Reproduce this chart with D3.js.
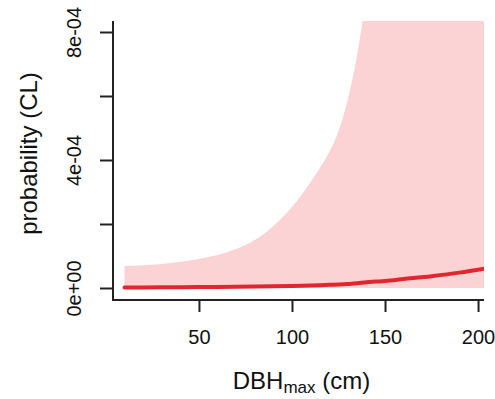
<!DOCTYPE html>
<html>
<head>
<meta charset="utf-8">
<script src="https://cdn.jsdelivr.net/npm/d3@7"></script>
<style>
  html, body { margin: 0; padding: 0; background: #fff; }
  svg { display: block; font-family: "Liberation Sans", Arial, sans-serif; }
</style>
</head>
<body>
<svg id="chart" width="495" height="399"></svg>
<script>
// ---- data ----
const dbh     = [10, 20, 30, 40, 50, 60, 70, 80, 90, 100, 110, 115, 120, 125, 130, 135, 140, 145, 150, 160, 175, 190, 205];
const meanP   = [1.5e-6, 1.8e-6, 2.1e-6, 2.4e-6, 2.8e-6, 3.3e-6, 3.9e-6, 4.6e-6, 5.5e-6, 6.6e-6, 8.0e-6, 8.9e-6, 1.0e-5, 1.1e-5, 1.25e-5, 1.45e-5, 1.8e-5, 2.0e-5, 2.2e-5, 2.8e-5, 3.7e-5, 4.8e-5, 6.2e-5];
const upperP  = [6.9e-5, 7.1e-5, 7.5e-5, 8.2e-5, 9.1e-5, 1.03e-4, 1.22e-4, 1.5e-4, 1.94e-4, 2.53e-4, 3.31e-4, 3.75e-4, 4.25e-4, 4.9e-4, 5.9e-4, 7.28e-4, 9.2e-4, 1.16e-3, 1.45e-3, 2.3e-3, 4.0e-3, 7.0e-3, 1.2e-2];
const lowerP  = [0, 0, 0, 0, 0, 0, 0, 0, 0, 0, 0, 0, 0, 0, 0, 0, 0, 0, 0, 0, 0, 0, 0];
const xTicks  = [50, 100, 150, 200];
const yTicks  = [0, 2e-4, 4e-4, 6e-4, 8e-4];
const yTickLabels = {0: "0e+00", 0.0004: "4e-04", 0.0008: "8e-04"};
const xTitle  = "DBH";
const xTitleSub = "max";
const xTitleTail = " (cm)";
const yTitle  = "probability (CL)";

// ---- layout ----
const svg = d3.select("#chart");
const L = 113, R = 484, T = 21, B = 300;
const x = d3.scaleLinear().domain([3.8, 203.2]).range([L, R]);
const y = d3.scaleLinear().domain([-3.75e-5, 8.344e-4]).range([B, T]);
const fs = 20, fsLab = 24;

const rows = dbh.map((d, i) => ({x: d, m: meanP[i], lo: lowerP[i], hi: upperP[i]}));

svg.append("defs").append("clipPath").attr("id", "clip")
  .append("rect").attr("x", L).attr("y", T).attr("width", R - L).attr("height", B - T);

const g = svg.append("g").attr("clip-path", "url(#clip)");

g.append("path").datum(rows)
  .attr("fill", "#fcd3d4")
  .attr("d", d3.area().x(d => x(d.x)).y0(d => y(d.lo)).y1(d => y(d.hi)).curve(d3.curveMonotoneX));

g.append("path").datum(rows)
  .attr("fill", "none")
  .attr("stroke", "#e0262e")
  .attr("stroke-width", 4)
  .attr("stroke-linecap", "round")
  .attr("d", d3.line().x(d => x(d.x)).y(d => y(d.m)).curve(d3.curveMonotoneX));

// L-shaped box
svg.append("path")
  .attr("d", `M${L},${T}V${B}H${R}`)
  .attr("fill", "none").attr("stroke", "#222").attr("stroke-width", 2);

// x axis
const xa = svg.append("g").attr("transform", `translate(0,${B})`)
  .call(d3.axisBottom(x).tickValues(xTicks).tickSize(12).tickSizeOuter(0).tickFormat(d3.format("d")));
xa.select(".domain").remove();
xa.selectAll("line").attr("stroke", "#222").attr("stroke-width", 2);
xa.selectAll("text").attr("y", 44).attr("dy", 0)
  .attr("font-size", fs).attr("fill", "#111").attr("font-family", "Liberation Sans, Arial, sans-serif");

// y axis
const ya = svg.append("g").attr("transform", `translate(${L},0)`)
  .call(d3.axisLeft(y).tickValues(yTicks).tickSize(13).tickSizeOuter(0)
    .tickFormat(d => yTickLabels[+d.toFixed(4)] || ""));
ya.select(".domain").remove();
ya.selectAll("line").attr("stroke", "#222").attr("stroke-width", 2);
ya.selectAll("text")
  .attr("transform", "rotate(-90)")
  .attr("x", 0).attr("y", -32).attr("dy", 0)
  .attr("text-anchor", "middle")
  .attr("font-size", fs).attr("fill", "#111").attr("font-family", "Liberation Sans, Arial, sans-serif");

// axis titles
const xt = svg.append("text")
  .attr("x", (L + R) / 2 + 3).attr("y", 389)
  .attr("text-anchor", "middle").attr("font-size", fsLab).attr("fill", "#111");
xt.append("tspan").text(xTitle);
xt.append("tspan").attr("font-size", 17).attr("dy", 4).text(xTitleSub);
xt.append("tspan").attr("dy", -4).text(xTitleTail);

svg.append("text")
  .attr("transform", `translate(37,${(T + B) / 2 - 7}) rotate(-90)`)
  .attr("text-anchor", "middle").attr("font-size", fsLab).attr("fill", "#111")
  .text(yTitle);
</script>
</body>
</html>
